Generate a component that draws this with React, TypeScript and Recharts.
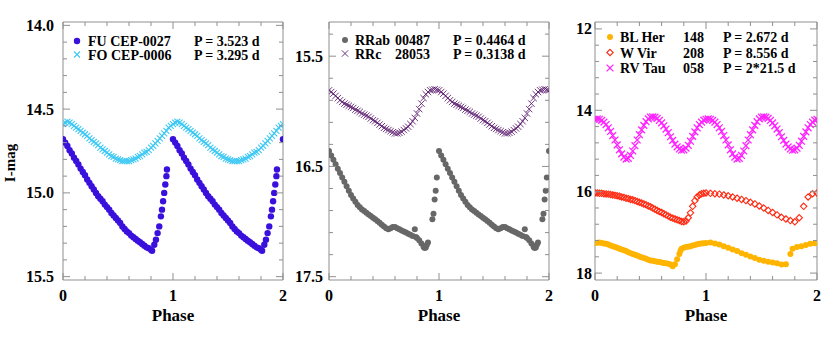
import React from "react";
import { ScatterChart, Scatter, XAxis, YAxis } from "recharts";

type Pt = [number, number];

// phase, I-mag (one cycle)
const fuCep0027: Pt[] = [
  [0, 14.68], [0.02, 14.7], [0.04, 14.72], [0.06, 14.745], [0.08, 14.765], [0.1, 14.79],
  [0.12, 14.81], [0.14, 14.83], [0.16, 14.855], [0.18, 14.875], [0.2, 14.895], [0.22, 14.92],
  [0.24, 14.94], [0.26, 14.96], [0.28, 14.98], [0.3, 15.0], [0.32, 15.02], [0.34, 15.035],
  [0.36, 15.05], [0.38, 15.07], [0.4, 15.085], [0.42, 15.1], [0.44, 15.12], [0.46, 15.135],
  [0.48, 15.15], [0.5, 15.165], [0.52, 15.18], [0.54, 15.2], [0.56, 15.215], [0.58, 15.23],
  [0.6, 15.24], [0.62, 15.255], [0.64, 15.265], [0.66, 15.275], [0.68, 15.285], [0.7, 15.295],
  [0.72, 15.305], [0.74, 15.315], [0.76, 15.325], [0.78, 15.33], [0.8, 15.34], [0.81, 15.345],
  [0.83, 15.31], [0.845, 15.28], [0.86, 15.24], [0.875, 15.2], [0.89, 15.14], [0.9, 15.1],
  [0.91, 15.05], [0.92, 15.0], [0.93, 14.95], [0.94, 14.9], [0.945, 14.86],
];

const foCep0006: Pt[] = [
  [0, 14.59], [0.02, 14.58], [0.04, 14.575], [0.06, 14.58], [0.08, 14.59], [0.1, 14.6],
  [0.12, 14.61], [0.14, 14.62], [0.16, 14.63], [0.18, 14.64], [0.2, 14.65], [0.22, 14.66],
  [0.24, 14.675], [0.26, 14.685], [0.28, 14.695], [0.3, 14.705], [0.32, 14.715], [0.34, 14.73],
  [0.36, 14.74], [0.38, 14.75], [0.4, 14.76], [0.42, 14.77], [0.44, 14.78], [0.46, 14.785],
  [0.48, 14.795], [0.5, 14.8], [0.52, 14.805], [0.54, 14.81], [0.56, 14.81], [0.58, 14.81],
  [0.6, 14.81], [0.62, 14.805], [0.64, 14.8], [0.66, 14.795], [0.68, 14.785], [0.7, 14.78],
  [0.72, 14.77], [0.74, 14.76], [0.76, 14.755], [0.78, 14.745], [0.8, 14.73], [0.82, 14.72],
  [0.84, 14.705], [0.86, 14.69], [0.88, 14.675], [0.9, 14.66], [0.92, 14.645], [0.94, 14.63],
  [0.96, 14.61], [0.98, 14.6],
];

const rrab00487: Pt[] = [
  [0, 16.36], [0.02, 16.4], [0.04, 16.44], [0.06, 16.48], [0.08, 16.52], [0.1, 16.56],
  [0.12, 16.6], [0.14, 16.64], [0.16, 16.68], [0.18, 16.72], [0.2, 16.76], [0.22, 16.79],
  [0.24, 16.82], [0.26, 16.85], [0.28, 16.87], [0.3, 16.89], [0.32, 16.905], [0.34, 16.92],
  [0.36, 16.935], [0.38, 16.95], [0.4, 16.965], [0.42, 16.98], [0.44, 16.995], [0.46, 17.01],
  [0.48, 17.03], [0.5, 17.045], [0.52, 17.06], [0.54, 17.07], [0.56, 17.06], [0.58, 17.05],
  [0.6, 17.05], [0.62, 17.06], [0.64, 17.07], [0.66, 17.08], [0.68, 17.09], [0.7, 17.1],
  [0.72, 17.11], [0.74, 17.12], [0.76, 17.13], [0.78, 17.07], [0.79, 17.14], [0.8, 17.15],
  [0.82, 17.17], [0.84, 17.2], [0.86, 17.23], [0.87, 17.24], [0.88, 17.235], [0.89, 17.21],
  [0.9, 17.19], [0.94, 16.98], [0.95, 16.93], [0.96, 16.8], [0.97, 16.72], [0.98, 16.6],
];

const rrc28053: Pt[] = [
  [0, 15.81], [0.02, 15.825], [0.04, 15.84], [0.06, 15.86], [0.08, 15.88], [0.1, 15.9],
  [0.12, 15.915], [0.14, 15.93], [0.16, 15.94], [0.18, 15.95], [0.2, 15.96], [0.22, 15.97],
  [0.24, 15.985], [0.26, 15.995], [0.28, 16.005], [0.3, 16.02], [0.32, 16.03], [0.34, 16.04],
  [0.36, 16.05], [0.38, 16.065], [0.4, 16.08], [0.42, 16.09], [0.44, 16.105], [0.46, 16.12],
  [0.48, 16.135], [0.5, 16.15], [0.52, 16.16], [0.54, 16.17], [0.56, 16.18], [0.58, 16.19],
  [0.6, 16.2], [0.62, 16.2], [0.64, 16.195], [0.66, 16.185], [0.68, 16.17], [0.7, 16.155],
  [0.72, 16.14], [0.74, 16.115], [0.76, 16.09], [0.78, 16.06], [0.8, 16.02], [0.82, 15.98],
  [0.84, 15.93], [0.86, 15.88], [0.88, 15.845], [0.9, 15.825], [0.92, 15.81], [0.94, 15.805],
  [0.96, 15.8], [0.98, 15.805],
];

const blHer148: Pt[] = [
  [0, 17.26], [0.02, 17.255], [0.04, 17.25], [0.06, 17.26], [0.08, 17.27], [0.1, 17.28],
  [0.12, 17.3], [0.14, 17.32], [0.16, 17.34], [0.18, 17.36], [0.2, 17.38], [0.22, 17.4],
  [0.24, 17.42], [0.26, 17.44], [0.28, 17.46], [0.3, 17.49], [0.32, 17.51], [0.34, 17.53],
  [0.36, 17.55], [0.38, 17.57], [0.4, 17.59], [0.42, 17.61], [0.44, 17.63], [0.46, 17.65],
  [0.48, 17.67], [0.5, 17.69], [0.52, 17.7], [0.54, 17.71], [0.56, 17.72], [0.58, 17.73],
  [0.6, 17.74], [0.62, 17.75], [0.64, 17.76], [0.66, 17.77], [0.68, 17.79], [0.7, 17.83],
  [0.72, 17.78], [0.74, 17.66], [0.76, 17.53], [0.77, 17.45], [0.78, 17.4], [0.8, 17.38],
  [0.82, 17.36], [0.84, 17.35], [0.86, 17.34], [0.88, 17.32], [0.9, 17.31], [0.92, 17.29],
  [0.94, 17.28], [0.96, 17.27], [0.98, 17.265],
];

const wVir208: Pt[] = [
  [0, 16.03], [0.02, 16.03], [0.04, 16.04], [0.06, 16.04], [0.08, 16.05], [0.1, 16.055],
  [0.12, 16.06], [0.14, 16.07], [0.16, 16.08], [0.18, 16.09], [0.2, 16.1], [0.22, 16.11],
  [0.24, 16.13], [0.26, 16.14], [0.28, 16.16], [0.3, 16.17], [0.32, 16.19], [0.34, 16.2],
  [0.36, 16.22], [0.38, 16.24], [0.4, 16.26], [0.42, 16.28], [0.44, 16.3], [0.46, 16.32],
  [0.48, 16.35], [0.5, 16.37], [0.52, 16.4], [0.54, 16.43], [0.56, 16.46], [0.58, 16.49],
  [0.6, 16.51], [0.62, 16.54], [0.64, 16.57], [0.66, 16.6], [0.68, 16.63], [0.7, 16.65],
  [0.72, 16.67], [0.74, 16.69], [0.76, 16.71], [0.78, 16.73], [0.8, 16.74], [0.82, 16.72],
  [0.84, 16.64], [0.86, 16.52], [0.88, 16.36], [0.9, 16.22], [0.92, 16.13], [0.94, 16.08],
  [0.96, 16.05], [0.98, 16.04],
];

const rvTau058: Pt[] = [
  [0, 14.22], [0.02, 14.21], [0.04, 14.22], [0.06, 14.25], [0.08, 14.29], [0.1, 14.35],
  [0.12, 14.43], [0.14, 14.52], [0.16, 14.62], [0.18, 14.73], [0.2, 14.85], [0.22, 14.97],
  [0.24, 15.07], [0.26, 15.15], [0.28, 15.2], [0.3, 15.18], [0.32, 15.11], [0.34, 15.0],
  [0.36, 14.87], [0.38, 14.73], [0.4, 14.6], [0.42, 14.48], [0.44, 14.37], [0.46, 14.28],
  [0.48, 14.21], [0.5, 14.17], [0.52, 14.16], [0.54, 14.17], [0.56, 14.2], [0.58, 14.25],
  [0.6, 14.31], [0.62, 14.38], [0.64, 14.46], [0.66, 14.55], [0.68, 14.65], [0.7, 14.74],
  [0.72, 14.83], [0.74, 14.9], [0.76, 14.95], [0.78, 14.98], [0.8, 14.97], [0.82, 14.93],
  [0.84, 14.86], [0.86, 14.76], [0.88, 14.64], [0.9, 14.53], [0.92, 14.43], [0.94, 14.35],
  [0.96, 14.29], [0.98, 14.24],
];

// axis ticks
const phaseMajor = [0, 1, 2];
const phaseMinor = [0.2, 0.4, 0.6, 0.8, 1.2, 1.4, 1.6, 1.8];
const cepMajor = [14.0, 14.5, 15.0, 15.5];
const cepMinor = [14.1, 14.2, 14.3, 14.4, 14.6, 14.7, 14.8, 14.9, 15.1, 15.2, 15.3, 15.4];
const rrlMajor = [15.5, 16.5, 17.5];
const rrlMinor = [15.3, 15.7, 15.9, 16.1, 16.3, 16.7, 16.9, 17.1, 17.3];
const t2Major = [12, 14, 16, 18];
const t2Minor = [12.4, 12.8, 13.2, 13.6, 14.4, 14.8, 15.2, 15.6, 16.4, 16.8, 17.2, 17.6];

// fold one cycle over phase 0..2; every = keep every n-th point in the second cycle
const fold = (pts: Pt[], every = 1) => {
  const out: { x: number; y: number }[] = [];
  [0, 1, 2].forEach((k) => {
    pts.forEach(([p, m], i) => {
      if (k > 0 && i % every !== 0) return;
      const x = p + k;
      if (x <= 2.0001) out.push({ x, y: m });
    });
  });
  return out;
};

const FONT = "Liberation Serif, Times New Roman, serif";
const FRAME = "#8f8f8f";

const Dot = ({ cx, cy, r, fill }: any) => <circle cx={cx} cy={cy} r={r} fill={fill} />;
const Cross = ({ cx, cy, r, stroke, sw }: any) => (
  <path
    d={`M${cx - r},${cy - r}L${cx + r},${cy + r}M${cx - r},${cy + r}L${cx + r},${cy - r}`}
    stroke={stroke}
    strokeWidth={sw}
    fill="none"
  />
);
const Diamond = ({ cx, cy, r, stroke, sw }: any) => (
  <path
    d={`M${cx},${cy - r}L${cx + r},${cy}L${cx},${cy + r}L${cx - r},${cy}Z`}
    stroke={stroke}
    strokeWidth={sw}
    fill="none"
  />
);

type Series = {
  name: string;
  data: { x: number; y: number }[];
  marker: (cx: number, cy: number) => React.ReactElement;
};

const mk = {
  fu: (cx: number, cy: number) => <Dot cx={cx} cy={cy} r={3.2} fill="#3a10dc" />,
  fo: (cx: number, cy: number) => <Cross cx={cx} cy={cy} r={3} stroke="#3cc8f4" sw={1.1} />,
  rrab: (cx: number, cy: number) => <Dot cx={cx} cy={cy} r={3} fill="#676767" />,
  rrc: (cx: number, cy: number) => <Cross cx={cx} cy={cy} r={3.2} stroke="#5e1f70" sw={0.9} />,
  bl: (cx: number, cy: number) => <Dot cx={cx} cy={cy} r={3} fill="#ffb400" />,
  wv: (cx: number, cy: number) => <Diamond cx={cx} cy={cy} r={3.2} stroke="#ff2a12" sw={1.1} />,
  rv: (cx: number, cy: number) => <Cross cx={cx} cy={cy} r={3.4} stroke="#ff22ff" sw={1.3} />,
};

type Panel = {
  x0: number;
  x1: number;
  domain: [number, number];
  major: number[];
  minor: number[];
  digits: number;
  labelGap: number;
  series: Series[];
};

const panels: Panel[] = [
  {
    x0: 63, x1: 283, domain: [13.98, 15.52], major: cepMajor, minor: cepMinor, digits: 1, labelGap: 9,
    series: [
      { name: "fo", data: fold(foCep0006), marker: mk.fo },
      { name: "fu", data: fold(fuCep0027), marker: mk.fu },
    ],
  },
  {
    x0: 329, x1: 549, domain: [15.19, 17.53], major: rrlMajor, minor: rrlMinor, digits: 1, labelGap: 6,
    series: [
      { name: "rrc", data: fold(rrc28053), marker: mk.rrc },
      { name: "rrab", data: fold(rrab00487), marker: mk.rrab },
    ],
  },
  {
    x0: 595, x1: 817, domain: [11.83, 18.17], major: t2Major, minor: t2Minor, digits: 0, labelGap: 3,
    series: [
      { name: "rv", data: fold(rvTau058), marker: mk.rv },
      { name: "wv", data: fold(wVir208, 2), marker: mk.wv },
      { name: "bl", data: fold(blHer148, 2), marker: mk.bl },
    ],
  },
];

const PLOT_TOP = 22;
const PLOT_BOTTOM = 280;
const W = 830;
const H = 338;

const isMajor = (list: number[], v: number) => list.some((m) => Math.abs(m - v) < 1e-6);

const makeTick = (side: string, major: number[], digits: number, gap: number) => (p: any) => {
  const { x, y, payload } = p;
  const v = payload.value;
  const big = isMajor(major, v);
  const len = big ? 7 : 4;
  const txt = { fontFamily: FONT, fontWeight: 700, fontSize: 16, fill: "#000" } as const;
  if (side === "bottom")
    return (
      <g>
        <line x1={x} y1={y} x2={x} y2={y - len} stroke={FRAME} />
        {big && (
          <text x={x} y={y + 21} textAnchor="middle" {...txt}>
            {v.toFixed(0)}
          </text>
        )}
      </g>
    );
  if (side === "top") return <line x1={x} y1={y} x2={x} y2={y + len} stroke={FRAME} />;
  if (side === "right") return <line x1={x} y1={y} x2={x - len} y2={y} stroke={FRAME} />;
  return (
    <g>
      <line x1={x} y1={y} x2={x + len} y2={y} stroke={FRAME} />
      {big && (
        <text x={x - gap} y={y + 5.5} textAnchor="end" {...txt}>
          {v.toFixed(digits)}
        </text>
      )}
    </g>
  );
};

const PanelChart = ({ pn }: { pn: Panel }) => {
  const xt = [...phaseMajor, ...phaseMinor].sort((a, b) => a - b);
  const yt = [...pn.major, ...pn.minor].sort((a, b) => a - b);
  return (
    <div style={{ position: "absolute", left: 0, top: 0 }}>
      <ScatterChart
        width={W}
        height={H}
        margin={{ left: pn.x0 - 40, right: W - pn.x1 - 2, top: PLOT_TOP - 2, bottom: H - PLOT_BOTTOM - 30 }}
      >
        <XAxis
          xAxisId="b"
          type="number"
          dataKey="x"
          domain={[0, 2]}
          ticks={xt}
          interval={0}
          height={30}
          tickSize={0}
          tickMargin={0}
          tickLine={false}
          axisLine={{ stroke: FRAME }}
          tick={makeTick("bottom", phaseMajor, 0, 0)}
          allowDataOverflow
        />
        <XAxis
          xAxisId="t"
          orientation="top"
          type="number"
          dataKey="x"
          domain={[0, 2]}
          ticks={xt}
          interval={0}
          height={2}
          tickSize={0}
          tickMargin={0}
          tickLine={false}
          axisLine={{ stroke: FRAME }}
          tick={makeTick("top", phaseMajor, 0, 0)}
          allowDataOverflow
        />
        <YAxis
          yAxisId="l"
          type="number"
          dataKey="y"
          domain={pn.domain}
          reversed
          ticks={yt}
          interval={0}
          width={40}
          tickSize={0}
          tickMargin={0}
          tickLine={false}
          axisLine={{ stroke: FRAME }}
          tick={makeTick("left", pn.major, pn.digits, pn.labelGap)}
          allowDataOverflow
        />
        <YAxis
          yAxisId="r"
          orientation="right"
          type="number"
          dataKey="y"
          domain={pn.domain}
          reversed
          ticks={yt}
          interval={0}
          width={2}
          tickSize={0}
          tickMargin={0}
          tickLine={false}
          axisLine={{ stroke: FRAME }}
          tick={makeTick("right", pn.major, pn.digits, 0)}
          allowDataOverflow
        />
        {pn.series.map((s) => (
          <Scatter
            key={s.name}
            xAxisId="b"
            yAxisId="l"
            data={s.data}
            isAnimationActive={false}
            shape={(p: any) => s.marker(p.cx, p.cy)}
          />
        ))}
      </ScatterChart>
    </div>
  );
};

type LegendRow = { marker: (cx: number, cy: number) => React.ReactElement; name: string; id?: string; period: string };

const legends: { mx: number; tx: number; idx?: number; px: number; y0: number; dy: number; rows: LegendRow[] }[] = [
  {
    mx: 77, tx: 88, px: 194, y0: 41, dy: 13.5,
    rows: [
      { marker: mk.fu, name: "FU CEP-0027", period: "P = 3.523 d" },
      { marker: mk.fo, name: "FO CEP-0006", period: "P = 3.295 d" },
    ],
  },
  {
    mx: 345, tx: 355, idx: 395, px: 453, y0: 40, dy: 13.5,
    rows: [
      { marker: mk.rrab, name: "RRab", id: "00487", period: "P = 0.4464 d" },
      { marker: mk.rrc, name: "RRc", id: "28053", period: "P = 0.3138 d" },
    ],
  },
  {
    mx: 610, tx: 620, idx: 683, px: 723, y0: 37, dy: 15.5,
    rows: [
      { marker: mk.bl, name: "BL Her", id: "148", period: "P = 2.672 d" },
      { marker: mk.wv, name: "W Vir", id: "208", period: "P = 8.556 d" },
      { marker: mk.rv, name: "RV Tau", id: "058", period: "P = 2*21.5 d" },
    ],
  },
];

const Overlay = () => {
  const txt = { fontFamily: FONT, fontWeight: 700, fill: "#000" } as const;
  return (
    <svg width={W} height={H} style={{ position: "absolute", left: 0, top: 0, pointerEvents: "none" }}>
      {legends.map((lg, i) => (
        <g key={i}>
          {lg.rows.map((r, j) => {
            const cy = lg.y0 + j * lg.dy;
            return (
              <g key={j}>
                {r.marker(lg.mx, cy)}
                <text x={lg.tx} y={cy + 5} fontSize={14} {...txt}>
                  {r.name}
                </text>
                {r.id && lg.idx !== undefined && (
                  <text x={lg.idx} y={cy + 5} fontSize={14} {...txt}>
                    {r.id}
                  </text>
                )}
                <text x={lg.px} y={cy + 5} fontSize={14} {...txt}>
                  {r.period}
                </text>
              </g>
            );
          })}
        </g>
      ))}
      {panels.map((pn, i) => (
        <text key={i} x={(pn.x0 + pn.x1) / 2} y={321} textAnchor="middle" fontSize={17} {...txt}>
          Phase
        </text>
      ))}
      <text x={15} y={163} transform="rotate(-90 15 163)" textAnchor="middle" fontSize={15} {...txt}>
        I-mag
      </text>
    </svg>
  );
};

export default function App() {
  return (
    <div style={{ position: "fixed", left: 0, top: 0, width: W, height: H, background: "#fff", overflow: "hidden" }}>
      {panels.map((pn, i) => (
        <PanelChart key={i} pn={pn} />
      ))}
      <Overlay />
    </div>
  );
}
